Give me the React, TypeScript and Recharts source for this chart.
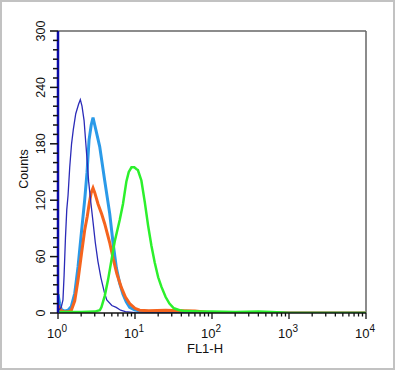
import React from 'react';
import { LineChart, Line, XAxis, YAxis, ReferenceLine } from 'recharts';

const darkBlueX = [1.0, 1.1, 1.16, 1.2, 1.25, 1.3, 1.35, 1.42, 1.5, 1.58, 1.7, 1.85, 1.95, 2.05, 2.18, 2.3, 2.4, 2.5, 2.65, 2.85, 3.05, 3.3, 3.6, 4.0, 4.3, 5.0, 5.7, 6.5, 7.5, 10, 20, 10000];
const darkBlueY = [2, 6, 14, 40, 80, 110, 125, 155, 180, 195, 212, 222, 227, 220, 205, 180, 160, 140, 120, 97, 75, 55, 38, 22, 14, 8, 6, 3, 1.5, 0.5, 0, 0];

const lightBlueX = [1.0, 1.05, 1.1, 1.2, 1.35, 1.49, 1.65, 1.82, 2.01, 2.22, 2.38, 2.53, 2.7, 2.85, 3.0, 3.2, 3.48, 4.04, 4.69, 5.18, 5.73, 6.3, 6.98, 7.7, 8.53, 10, 12, 20, 40, 60, 100, 10000];
const lightBlueY = [20, 10, 4, 2, 3, 7, 21, 49, 85, 120, 149, 184, 200, 208, 200, 190, 177, 141, 106, 75, 48, 32, 20, 12, 6, 3, 2, 1, 1, 0.5, 0, 0];

const orangeX = [1.0, 1.05, 1.12, 1.25, 1.4, 1.49, 1.65, 1.82, 2.01, 2.22, 2.4, 2.55, 2.7, 2.85, 3.0, 3.31, 3.7, 4.04, 4.69, 5.2, 5.8, 6.66, 7.5, 8.53, 10, 11.5, 15, 25, 40, 60, 80, 100, 10000];
const orangeY = [8, 5, 2, 1, 1.5, 3, 13, 35, 62, 88, 103, 117, 128, 133, 128, 116, 105, 95, 75, 58, 42, 27, 17, 10, 5, 3, 2.5, 3, 2.5, 2, 1, 0, 0];

const greenX = [1, 2, 3, 3.5, 3.66, 4.04, 4.46, 4.94, 5.45, 6.33, 6.98, 7.73, 8.3, 9.0, 9.8, 10.5, 10.9, 12.1, 13.4, 14.8, 16.3, 18, 20, 22, 25, 28, 32, 38, 45, 70, 100, 200, 400, 600, 800, 1000, 10000];
const greenY = [1, 1, 1.5, 3, 6, 18, 35, 56, 76, 99, 116, 140, 150, 155, 155, 153, 152, 141, 118, 93, 72, 54, 38, 28, 17, 10, 5, 3, 2, 1.5, 1.5, 1, 1.5, 1, 0.5, 0, 0];

const xMajorTicks = [1, 10, 100, 1000, 10000];
const xExponents = ['0', '1', '2', '3', '4'];
const xTicks: number[] = [];
for (let d = 0; d < 4; d++) {
  for (let m = 1; m < 10; m++) xTicks.push(m * Math.pow(10, d));
}
xTicks.push(10000);
const yTicks: number[] = [];
for (let v = 0; v <= 300; v += 10) yTicks.push(v);

const toPts = (xs: number[], ys: number[]) => xs.map((x, i) => ({ x, y: ys[i] }));
const darkBlue = toPts(darkBlueX, darkBlueY);
const lightBlue = toPts(lightBlueX, lightBlueY);
const orange = toPts(orangeX, orangeY);
const green = toPts(greenX, greenY);

const W = 396;
const H = 371;
const Y_AXIS_W = 58;
const X_AXIS_H = 58;
const M = { top: 31, right: 30, bottom: 0, left: 0 };
const PLOT_LEFT = Y_AXIS_W;
const PLOT_BOTTOM = H - X_AXIS_H;
const FONT = '"Liberation Sans", Arial, Helvetica, sans-serif';

const XTick = (props: any) => {
  const { x, payload } = props;
  const v = payload.value;
  const idx = xMajorTicks.indexOf(v);
  const major = idx >= 0;
  return (
    <g>
      <line x1={x} x2={x} y1={PLOT_BOTTOM} y2={PLOT_BOTTOM + (major ? 6 : 3.5)} stroke="#111" strokeWidth={1.3} />
      {major && (
        <text x={x - 1} y={338} textAnchor="middle" fontSize={13} fontFamily={FONT} fill="#111">
          <tspan>10</tspan>
          <tspan dy={-6} fontSize={10}>{xExponents[idx]}</tspan>
        </text>
      )}
    </g>
  );
};

const YTick = (props: any) => {
  const { y, payload } = props;
  const v = payload.value;
  const major = v % 60 === 0;
  return (
    <g>
      <line x1={PLOT_LEFT - (major ? 8 : 5)} x2={PLOT_LEFT} y1={y} y2={y} stroke="#111" strokeWidth={1.5} />
      {major && (
        <text transform={`translate(45,${y}) rotate(-90)`} textAnchor="middle" fontSize={12.5} fontFamily={FONT} fill="#111">
          {v}
        </text>
      )}
    </g>
  );
};

const XLabel = () => (
  <text x={205} y={353} textAnchor="middle" fontSize={13} fontFamily={FONT} fill="#111">FL1-H</text>
);
const YLabel = () => (
  <text transform="translate(27.5,169) rotate(-90)" textAnchor="middle" fontSize={12.5} fontFamily={FONT} fill="#111">Counts</text>
);

export default function App() {
  return (
    <div style={{ position: 'absolute', left: 0, top: 0, width: W, height: H, background: '#fff' }}>
      <div style={{ position: 'absolute', left: 0, top: 0, width: 391, height: 366, border: '2px solid #c2c2c2' }} />
      <div style={{ position: 'absolute', left: 0, top: 0 }}>
        <LineChart width={W} height={H} margin={M}>
          <XAxis
            dataKey="x"
            type="number"
            scale="log"
            domain={[1, 10000]}
            allowDataOverflow
            ticks={xTicks}
            interval={0}
            tick={<XTick />}
            tickLine={false}
            axisLine={{ stroke: '#111', strokeWidth: 1.5 }}
            height={X_AXIS_H}
            label={<XLabel />}
          />
          <YAxis
            type="number"
            domain={[0, 300]}
            allowDataOverflow
            ticks={yTicks}
            interval={0}
            tick={<YTick />}
            tickLine={false}
            axisLine={{ stroke: '#0c0ca8', strokeWidth: 2.5 }}
            width={Y_AXIS_W}
            label={<YLabel />}
          />
          <ReferenceLine y={300} stroke="#666" strokeWidth={1.5} />
          <ReferenceLine x={10000} stroke="#666" strokeWidth={1.5} />
          <Line data={lightBlue} dataKey="y" stroke="#2a9ae8" strokeWidth={3} dot={false} isAnimationActive={false} />
          <Line data={orange} dataKey="y" stroke="#f5641e" strokeWidth={3} dot={false} isAnimationActive={false} />
          <Line data={darkBlue} dataKey="y" stroke="#2b2bb8" strokeWidth={1.3} dot={false} isAnimationActive={false} />
          <Line data={green} dataKey="y" stroke="#2cf02c" strokeWidth={2.5} dot={false} isAnimationActive={false} />
        </LineChart>
      </div>
    </div>
  );
}
